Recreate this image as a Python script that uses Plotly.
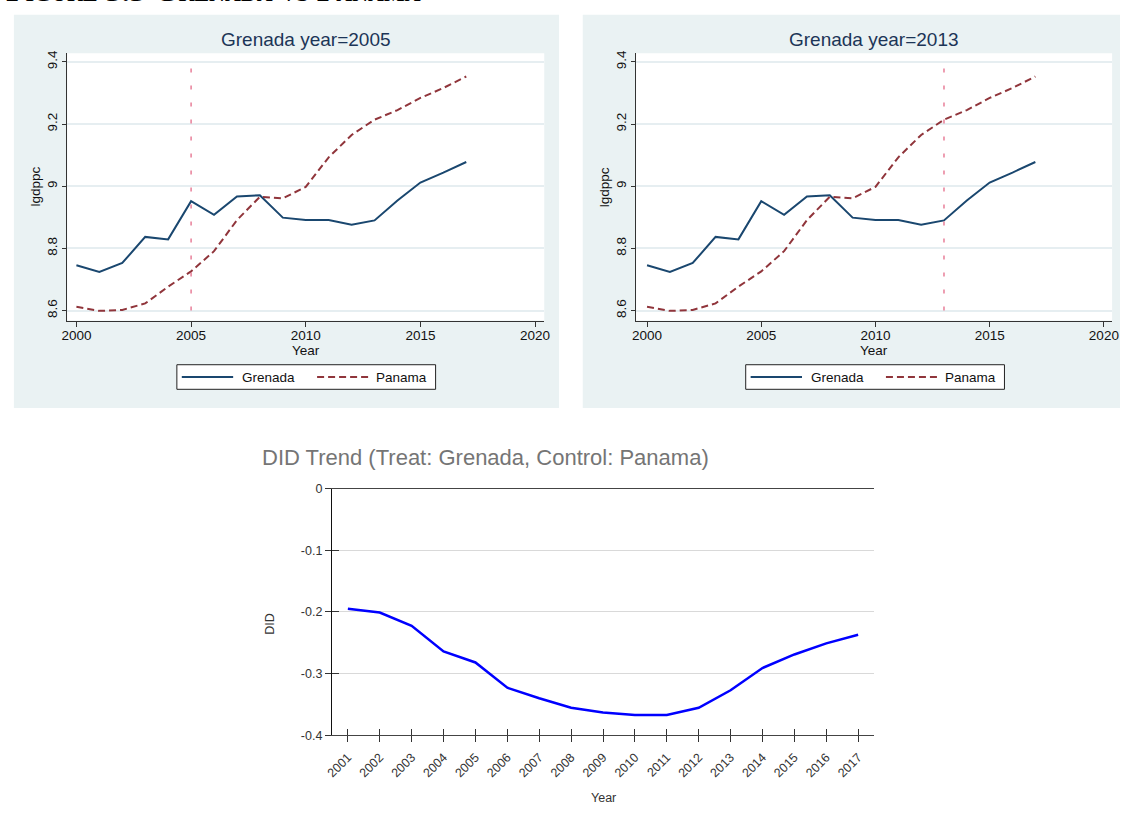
import plotly.graph_objects as go

# ---- data ----
years = list(range(2000, 2018))
grenada = [8.746, 8.724, 8.753, 8.837, 8.829, 8.952, 8.908, 8.967, 8.971, 8.899,
           8.891, 8.891, 8.876, 8.890, 8.954, 9.012, 9.044, 9.078]
panama = [8.612, 8.599, 8.602, 8.623, 8.677, 8.726, 8.791, 8.891, 8.966, 8.961,
          8.998, 9.093, 9.165, 9.214, 9.245, 9.284, 9.316, 9.353]
series_names = ["Grenada", "Panama"]
treat_years = [2005, 2013]
panel_titles = ["Grenada year=2005", "Grenada year=2013"]

x_ticks = [2000, 2005, 2010, 2015, 2020]
y_ticks = [8.6, 8.8, 9.0, 9.2, 9.4]
y_ticktext = ["8.6", "8.8", "9", "9.2", "9.4"]

did_years = list(range(2001, 2018))
did = [-0.195, -0.201, -0.2225, -0.264, -0.282, -0.323, -0.340, -0.3555, -0.363,
       -0.367, -0.367, -0.3555, -0.327, -0.291, -0.269, -0.251, -0.237]
did_ticks = [0, -0.1, -0.2, -0.3, -0.4]
did_ticktext = ["0", "-0.1", "-0.2", "-0.3", "-0.4"]
did_title = "DID Trend (Treat: Grenada, Control: Panama)"
caption = "Figure 5.5 Grenada vs Panama"

# ---- page geometry helpers (pixels -> paper) ----
W, H = 1127, 813
def xp(px):
    return px / W
def yp(py):
    return 1 - py / H

SANS = "Liberation Sans, Arial, sans-serif"
NAVY = "#1A476F"
MAROON = "#90353B"
STATA_BG = "#EAF2F3"
TITLE_C = "#1c3557"

fig = go.Figure()

# Stata-style panels: (axis suffix, panel left px, plot left px, plot right px, x range)
panels = [
    ("", 7, 61, 544, [1999.6, 2020.4]),
    ("2", 583, 637, 1119, [1999.52, 2020.36]),
]
panel_w = 552
plot_top, plot_bot = 47, 319
y_range = [8.568, 9.428]

shapes = []
annotations = []

def ann(text, x, y, size, color="#111", xanchor="center", yanchor="middle",
        angle=0, family=SANS, **kw):
    annotations.append(dict(text=text, x=xp(x), y=yp(y), xref="paper", yref="paper",
                            showarrow=False, xanchor=xanchor, yanchor=yanchor,
                            textangle=angle, font=dict(size=size, color=color, family=family, **kw)))

for i, (sfx, pleft, x0, x1, xr) in enumerate(panels):
    xa = "x" + sfx
    ya = "y" + sfx
    # grey-blue graph region
    shapes.append(dict(type="rect", xref="paper", yref="paper", layer="below",
                       x0=xp(pleft), x1=xp(min(pleft + panel_w, W)), y0=yp(408), y1=yp(8),
                       fillcolor=STATA_BG, line=dict(width=0)))
    # white plot region
    shapes.append(dict(type="rect", xref=xa + " domain", yref=ya + " domain", layer="below",
                       x0=0, x1=1, y0=0, y1=1, fillcolor="white", line=dict(width=0)))
    # treatment year marker
    shapes.append(dict(type="line", xref=xa, yref=ya, layer="above",
                       x0=treat_years[i], x1=treat_years[i], y0=y_ticks[0], y1=y_ticks[-1],
                       line=dict(color="#e46a88", width=1.3, dash="4px,13px")))

    fig.add_trace(go.Scatter(x=years, y=grenada, mode="lines", name=series_names[0],
                             line=dict(color=NAVY, width=2), xaxis=xa, yaxis=ya,
                             showlegend=False))
    fig.add_trace(go.Scatter(x=years, y=panama, mode="lines", name=series_names[1],
                             line=dict(color=MAROON, width=2, dash="7px,4px"),
                             xaxis=xa, yaxis=ya, showlegend=False))

    fig.update_layout(**{
        "xaxis" + sfx: dict(domain=[xp(x0), xp(x1)], range=xr, anchor=ya,
                            tickvals=x_ticks, ticktext=[str(t) for t in x_ticks],
                            ticks="outside", ticklen=5, tickcolor="#333", tickwidth=1,
                            ticklabelstandoff=-3,
                            showline=True, linecolor="#333", linewidth=1.2,
                            showgrid=False, zeroline=False,
                            tickfont=dict(size=13.5, color="#111", family=SANS)),
        "yaxis" + sfx: dict(domain=[yp(plot_bot), yp(plot_top)], range=y_range, anchor=xa,
                            tickvals=y_ticks, ticktext=y_ticktext, tickangle=-90,
                            ticks="outside", ticklen=4, tickcolor="#333", tickwidth=1,
                            showline=True, linecolor="#333", linewidth=1.2,
                            showgrid=True, gridcolor="#E6EEF1", gridwidth=1.8,
                            zeroline=False,
                            tickfont=dict(size=13.5, color="#111", family=SANS)),
    })

    cx = (x0 + x1) / 2
    ann(panel_titles[i], cx, 33, 19, TITLE_C)
    ann("Year", cx, 350, 13.5)
    ann("lgdppc", pleft + 22, (plot_top + plot_bot) / 2, 13.5, angle=-90)

    # legend box
    off = pleft - 7
    lx0, lx1, ly0, ly1 = 172 + off, 434 + off, 364, 389
    ly = (ly0 + ly1) / 2
    shapes.append(dict(type="rect", xref="paper", yref="paper", layer="above",
                       x0=xp(lx0), x1=xp(lx1), y0=yp(ly1), y1=yp(ly0),
                       fillcolor="white", line=dict(color="#222", width=1)))
    shapes.append(dict(type="line", xref="paper", yref="paper", layer="above",
                       x0=xp(177 + off), x1=xp(229 + off), y0=yp(ly), y1=yp(ly),
                       line=dict(color=NAVY, width=2)))
    shapes.append(dict(type="line", xref="paper", yref="paper", layer="above",
                       x0=xp(314 + off), x1=xp(367 + off), y0=yp(ly), y1=yp(ly),
                       line=dict(color=MAROON, width=2, dash="7px,4px")))
    ann(series_names[0], 236 + off, ly, 13.5, xanchor="left")
    ann(series_names[1], 372 + off, ly, 13.5, xanchor="left")

# ---- DID trend chart ----
d_x0, d_x1, d_top, d_bot = 329, 878, 490, 741
fig.add_trace(go.Scatter(x=did_years, y=did, mode="lines", name="DID",
                         line=dict(color="#0000ff", width=2.5), xaxis="x3", yaxis="y3",
                         showlegend=False))
fig.add_trace(go.Scatter(x=[], y=[], xaxis="x4", yaxis="y4", showlegend=False))

did_xr = [did_years[0] - 0.5, did_years[-1] + 0.5]
did_yr = [did_ticks[-1], did_ticks[0]]
fig.update_layout(
    xaxis3=dict(domain=[xp(d_x0), xp(d_x1)], range=did_xr, anchor="y3",
                tickvals=did_years, ticktext=[str(y) for y in did_years], tickangle=-45,
                ticks="outside", ticklen=6, tickcolor="#333", tickwidth=1,
                ticklabelstandoff=3,
                showline=True, mirror=True, linecolor="#444", linewidth=1,
                showgrid=False, zeroline=False,
                tickfont=dict(size=12.5, color="#333", family=SANS)),
    yaxis3=dict(domain=[yp(d_bot), yp(d_top)], range=did_yr, anchor="x3",
                tickvals=did_ticks, ticktext=did_ticktext,
                ticks="outside", ticklen=6, tickcolor="#333", tickwidth=1,
                showline=True, linecolor="#111", linewidth=1,
                showgrid=True, gridcolor="#d9d9d9", gridwidth=1, zeroline=False,
                tickfont=dict(size=12.5, color="#333", family=SANS)),
    xaxis4=dict(domain=[xp(d_x0), xp(d_x1)], range=did_xr, anchor="y4", overlaying="x3",
                tickvals=did_years, ticks="inside", ticklen=6, tickcolor="#333",
                showticklabels=False, showgrid=False, zeroline=False, showline=False),
    yaxis4=dict(domain=[yp(d_bot), yp(d_top)], range=did_yr, anchor="x4", overlaying="y3",
                tickvals=did_ticks, ticks="inside", ticklen=7, tickcolor="#333",
                showticklabels=False, showgrid=False, zeroline=False, showline=False),
)
ann(did_title, 256, 458, 22, "#757575", xanchor="left")
ann("Year", (d_x0 + d_x1) / 2, 805, 12.5, "#333")
ann("DID", 267, 628, 12.5, "#333", angle=-90)

# figure caption, mostly above the page edge
annotations.append(dict(text="<b>" + caption + "</b>", x=0, y=yp(3), xref="paper", yref="paper",
                        showarrow=False, xanchor="left", yanchor="bottom", xshift=-3,
                        font=dict(size=32, color="#000", family="Liberation Serif, Times New Roman, serif",
                                  variant="small-caps")))

fig.update_layout(width=W, height=H, autosize=False,
                  margin=dict(l=0, r=0, t=0, b=0),
                  paper_bgcolor="white", plot_bgcolor="white",
                  showlegend=False, shapes=shapes, annotations=annotations)

fig.write_html("out.html")
